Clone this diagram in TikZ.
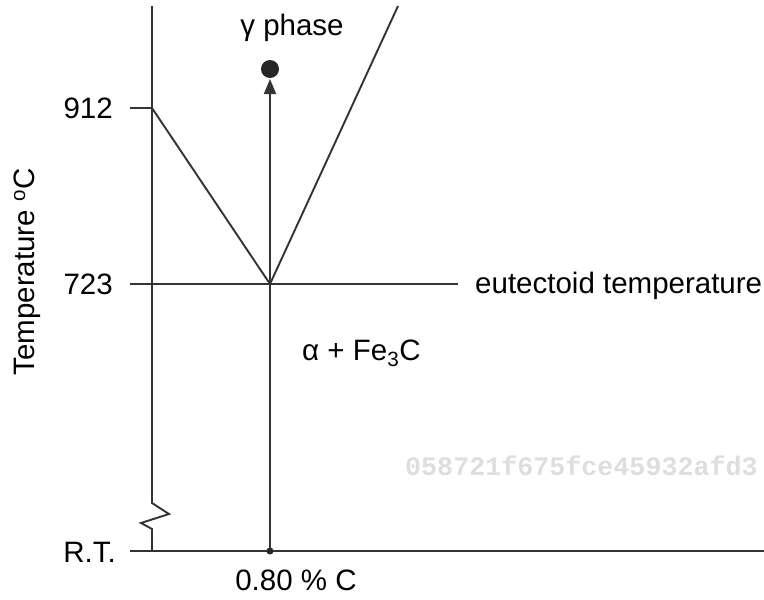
\documentclass[tikz,border=0pt]{standalone}
\usepackage{fontspec}
\setmainfont{Liberation Sans}
\newfontfamily\wmfont{Liberation Mono}
\usetikzlibrary{arrows.meta}
\begin{document}
\begin{tikzpicture}[x=1pt,y=-1pt,
  lbl/.style={inner sep=0pt,font=\fontsize{29.5}{35}\selectfont},
  ln/.style={line width=1.9pt,color=black!80},
  arr/.style={ln,-{Triangle[length=15pt,width=12pt]}}]
\useasboundingbox (0,0) rectangle (764,600);
% coordinates
\coordinate (axtop) at (152,6);
\coordinate (a912) at (152,108);
\coordinate (a723) at (152,284);
\coordinate (z1) at (152,503);
\coordinate (z2) at (169,514);
\coordinate (z3) at (141,523);
\coordinate (z4) at (152,529);
\coordinate (art) at (152,551);
\coordinate (t912) at (130,108);
\coordinate (t723) at (130,284);
\coordinate (trt) at (130,551);
\coordinate (eut) at (270,284);
\coordinate (eend) at (458,284);
\coordinate (bend) at (764,551);
\coordinate (ctop) at (398,6);
\coordinate (base) at (270,551);
\coordinate (tip) at (270,79);
% watermark
\node[inner sep=0pt,anchor=west,text=black!13,font=\wmfont\bfseries\fontsize{26.7}{30}\selectfont] (wm) at (405,466) {058721f675fce45932afd3};
% axes
\draw[ln] (axtop) -- (a912) -- (a723) -- (z1) -- (z2) -- (z3) -- (z4) -- (art);
\draw[ln] (t912) -- (a912);
\draw[ln] (t723) -- (eend);
\draw[ln] (trt) -- (bend);
% phase boundaries
\draw[ln] (a912) -- (eut) -- (ctop);
% arrow
\draw[arr] (base) -- (tip);
\node[circle,fill=black!85,inner sep=0pt,minimum size=18pt] (dot) at (270,69) {};
\node[circle,fill=black!85,inner sep=0pt,minimum size=7pt] (bdot) at (base) {};
% labels
\node[lbl,anchor=east] (l912) at (113,108) {912};
\node[lbl,anchor=east] (l723) at (113,284) {723};
\node[lbl,anchor=east] (lrt) at (116,552) {R.T.};
\node[lbl,rotate=90] (ltemp) at (27,272) {Temperature \textsuperscript{o}C};
\node[lbl] (lgam) at (292,28) {γ phase};
\node[lbl,anchor=west] (leut) at (475,286) {eutectoid temperature};
\node[lbl,anchor=west] (lalpha) at (302,353) {α + Fe\textsubscript{3}C};
\node[lbl] (lc) at (296,580) {0.80 \% C};
\end{tikzpicture}
\end{document}
